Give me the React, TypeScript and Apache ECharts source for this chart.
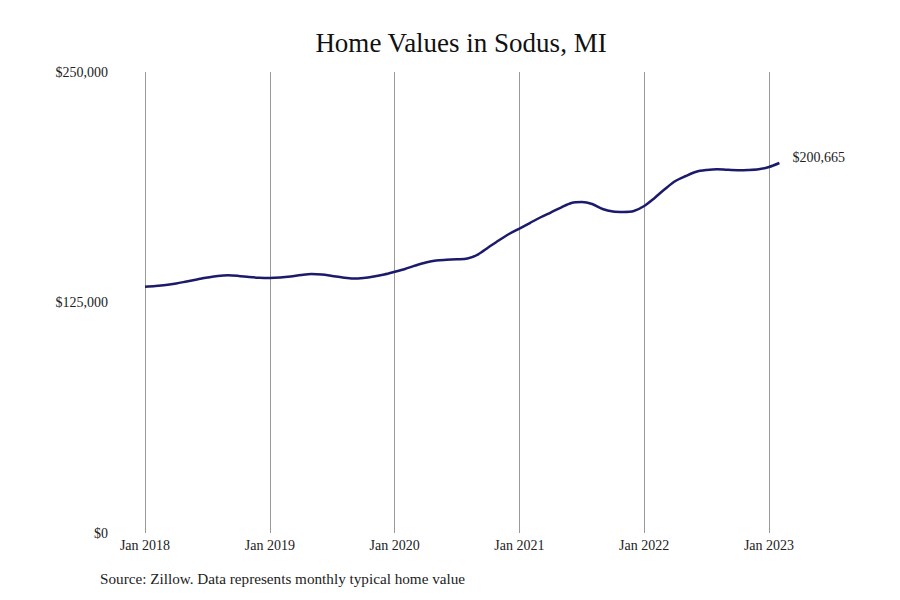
import React, { useEffect, useRef } from 'react';
import * as echarts from 'echarts';

const FONT = '"Liberation Serif", "DejaVu Serif", serif';

// monthly, Jan 2018 .. Feb 2023
const monthNames = ['Jan', 'Feb', 'Mar', 'Apr', 'May', 'Jun', 'Jul', 'Aug', 'Sep', 'Oct', 'Nov', 'Dec'];
const years = [2018, 2019, 2020, 2021, 2022, 2023];
const dates: string[] = [];
years.forEach((y) => monthNames.forEach((m) => dates.push(`${m} ${y}`)));
dates.length = 62;

const homeValues = [
  133570, 133950, 134500, 135300, 136400, 137500, 138550, 139400, 139750, 139400, 138800, 138400,
  138300, 138550, 139100, 139900, 140450, 140200, 139400, 138550, 138000, 138300, 139100, 140200,
  141650, 143200, 145050, 146700, 147800, 148150, 148400, 148850, 151000, 154800, 158600, 162150,
  165100, 168100, 171100, 173800, 176500, 179000, 179500, 178400, 175700, 174350, 174100, 174600,
  177300, 181700, 186550, 190900, 193600, 195900, 196850, 197300, 196950, 196750, 196850, 197250,
  198500, 200665,
];

const yTicks = [0, 125000, 250000];

const LINE_COLOR = '#1b1a6b';
const GRID_COLOR = '#9a9a9a';
const TEXT_COLOR = '#222222';

const fmtMoney = (v: number) => '$' + v.toLocaleString('en-US');

const App = (): JSX.Element => {
  const divEL = useRef<HTMLDivElement>(null);

  useEffect(() => {
    const instance = echarts.init(divEL.current as any, null, { renderer: 'svg' });

    const option: echarts.EChartsOption = {
      animation: false,
      backgroundColor: '#ffffff',
      title: {
        text: 'Home Values in Sodus, MI',
        left: 456,
        top: 24,
        textAlign: 'center',
        textStyle: {
          fontFamily: FONT,
          fontSize: 27,
          fontWeight: 'normal',
          color: '#111111',
        },
      },
      graphic: [
        {
          type: 'text',
          left: 100,
          top: 571,
          style: {
            text: 'Source: Zillow. Data represents monthly typical home value',
            font: `15.2px ${FONT}`,
            fill: TEXT_COLOR,
          },
        },
      ],
      grid: {
        left: 145,
        right: 120.6,
        top: 72,
        bottom: 67,
        containLabel: false,
      },
      xAxis: {
        type: 'category',
        data: dates,
        boundaryGap: false,
        axisLine: { show: false },
        axisTick: { show: false },
        axisLabel: {
          interval: (idx: number) => idx % 12 === 0,
          color: TEXT_COLOR,
          fontFamily: FONT,
          fontSize: 14,
          margin: 5,
        },
        splitLine: {
          show: true,
          interval: (idx: number) => idx % 12 === 0,
          lineStyle: { color: GRID_COLOR, width: 1 },
        },
      },
      yAxis: {
        type: 'value',
        min: 0,
        max: 250000,
        interval: 125000,
        axisLine: { show: false },
        axisTick: { show: false },
        splitLine: { show: false },
        axisLabel: {
          color: TEXT_COLOR,
          fontFamily: FONT,
          fontSize: 14,
          margin: 37,
          formatter: (v: number) => (yTicks.includes(v) ? fmtMoney(v) : ''),
        },
      },
      series: [
        {
          type: 'line',
          data: homeValues,
          smooth: 0.3,
          symbol: 'none',
          lineStyle: { color: LINE_COLOR, width: 2.5 },
          endLabel: {
            show: true,
            formatter: (p: any) => fmtMoney(p.value),
            color: TEXT_COLOR,
            fontFamily: FONT,
            fontSize: 14,
            distance: 13,
            offset: [0, -5],
          },
        },
      ],
    };

    instance.setOption(option);

    return () => {
      instance.dispose();
    };
  }, []);

  return (
    <div
      ref={divEL}
      style={{ position: 'absolute', left: 0, top: 0, width: 900, height: 600 }}
    ></div>
  );
};

export default App;
